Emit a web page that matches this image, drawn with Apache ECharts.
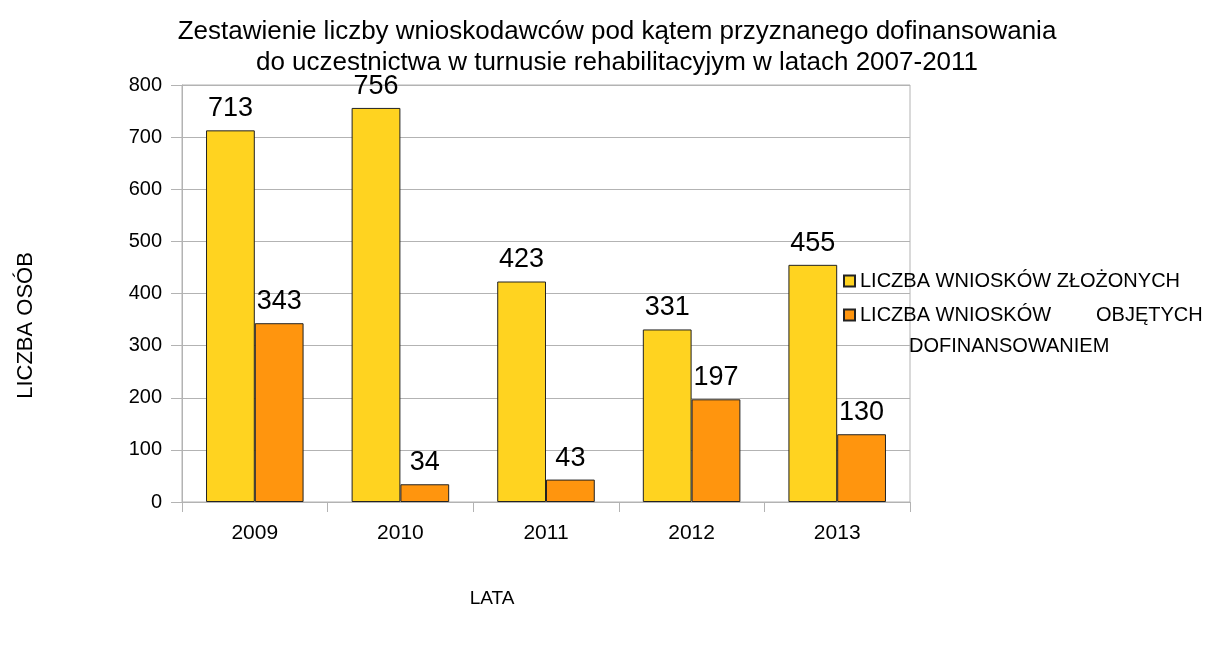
<!DOCTYPE html>
<html>
<head>
<meta charset="utf-8">
<script src="https://cdn.jsdelivr.net/npm/echarts@6/dist/echarts.min.js"></script>
<style>
html,body{margin:0;padding:0;background:#fff;}
#chart{width:1205px;height:660px;}
</style>
</head>
<body>
<div id="chart"></div>
<script>
const titleText = 'Zestawienie liczby wnioskodawców pod kątem przyznanego dofinansowania\ndo uczestnictwa w turnusie rehabilitacyjym w latach 2007-2011';
const years = ['2009', '2010', '2011', '2012', '2013'];
const seriesNames = ['LICZBA WNIOSKÓW ZŁOŻONYCH', 'LICZBA WNIOSKÓW OBJĘTYCH DOFINANSOWANIEM'];
const submitted = [713, 756, 423, 331, 455];
const funded = [343, 34, 43, 197, 130];
const yTicks = [0, 100, 200, 300, 400, 500, 600, 700, 800];
const yAxisTitle = 'LICZBA OSÓB';
const xAxisTitle = 'LATA';

const FONT = '"Liberation Sans", Arial, sans-serif';
const chart = echarts.init(document.getElementById('chart'), null, {renderer: 'canvas'});

chart.setOption({
  animation: false,
  backgroundColor: '#ffffff',
  textStyle: {fontFamily: FONT, color: '#000'},
  title: {
    text: titleText,
    left: 612,
    top: 11,
    textAlign: 'center',
    textStyle: {fontFamily: FONT, fontSize: 26, fontWeight: 'normal', color: '#000', lineHeight: 31}
  },
  grid: {
    left: 182, right: 295, top: 85, bottom: 158,
    show: true, borderColor: '#b3b3b3', borderWidth: 1,
    containLabel: false
  },
  legend: {
    orient: 'vertical',
    left: 838,
    top: 266,
    itemWidth: 11,
    itemHeight: 11,
    itemGap: 14,
    icon: 'rect',
    data: seriesNames,
    textStyle: {
      fontFamily: FONT, fontSize: 20, color: '#000',
      rich: {
        a: {fontFamily: FONT, fontSize: 20, color: '#000', width: 236},
        b: {fontFamily: FONT, fontSize: 20, color: '#000'}
      }
    },
    formatter: function (name) {
      if (name === seriesNames[1]) return '{a|LICZBA WNIOSKÓW}{b|OBJĘTYCH}';
      return name;
    }
  },
  graphic: [{
    type: 'text',
    left: 909,
    top: 336,
    style: {text: 'DOFINANSOWANIEM', font: '20px ' + FONT, fill: '#000'}
  }],
  xAxis: {
    type: 'category',
    data: years,
    name: xAxisTitle,
    nameLocation: 'middle',
    nameGap: 87,
    nameTextStyle: {fontFamily: FONT, fontSize: 19, color: '#000', padding: [0, 108, 0, 0]},
    axisLine: {show: true, lineStyle: {color: '#b3b3b3'}},
    axisTick: {show: true, length: 10, lineStyle: {color: '#b3b3b3'}},
    axisLabel: {fontFamily: FONT, fontSize: 21, color: '#000', margin: 21},
    splitLine: {show: false}
  },
  yAxis: {
    type: 'value',
    min: 0, max: 800, interval: 100,
    name: yAxisTitle,
    nameLocation: 'middle',
    nameGap: 145,
    nameRotate: 90,
    nameTextStyle: {fontFamily: FONT, fontSize: 22, color: '#000', padding: [0, 64, 0, 0]},
    axisLine: {show: true, lineStyle: {color: '#b3b3b3'}},
    axisTick: {show: true, length: 11, lineStyle: {color: '#b3b3b3'}},
    axisLabel: {
      fontFamily: FONT, fontSize: 20, color: '#000', margin: 20,
      formatter: function (v) { return yTicks.indexOf(v) >= 0 ? String(v) : ''; }
    },
    splitLine: {show: true, lineStyle: {color: '#b3b3b3', width: 1}}
  },
  series: [
    {
      name: seriesNames[0],
      type: 'bar',
      data: submitted,
      barGap: '0%',
      barCategoryGap: '33%',
      itemStyle: {color: '#ffd320', borderColor: '#222', borderWidth: 1},
      label: {show: true, position: 'top', distance: 8, fontFamily: FONT, fontSize: 27, color: '#000'}
    },
    {
      name: seriesNames[1],
      type: 'bar',
      data: funded,
      barGap: '0%',
      barCategoryGap: '33%',
      itemStyle: {color: '#ff950e', borderColor: '#222', borderWidth: 1},
      label: {show: true, position: 'top', distance: 8, fontFamily: FONT, fontSize: 27, color: '#000'}
    }
  ]
});
</script>
</body>
</html>
